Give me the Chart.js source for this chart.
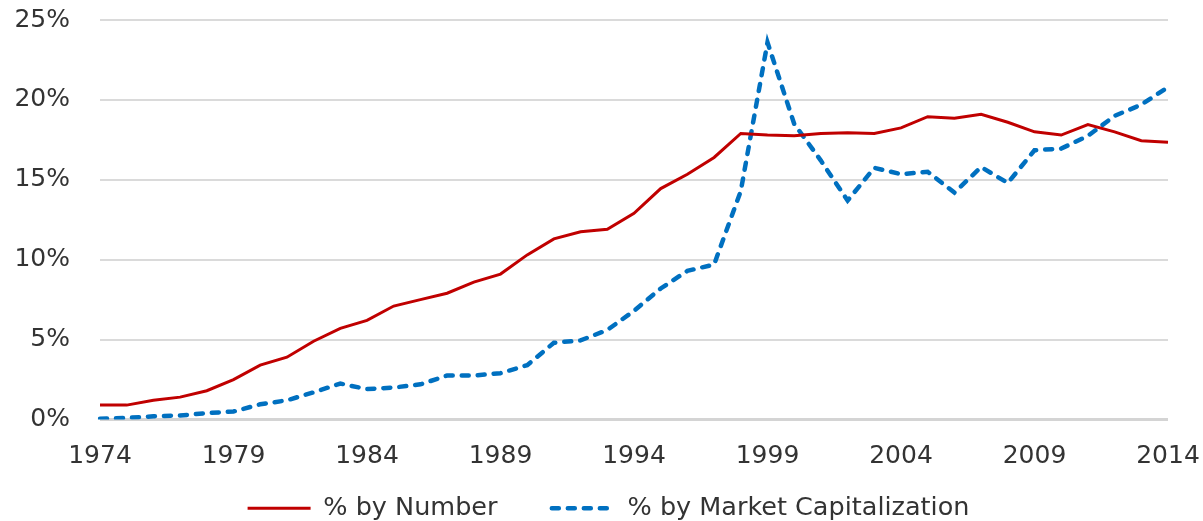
<!DOCTYPE html>
<html>
<head>
<meta charset="utf-8">
<title>% by Number vs % by Market Capitalization</title>
<script src="https://cdn.jsdelivr.net/npm/chart.js@4.4.1/dist/chart.umd.min.js"></script>
<style>
    html, body { margin: 0; padding: 0; background: #fff; }
    #wrap { width: 1203px; height: 521px; }
</style>
</head>
<body>
<div id="wrap"><canvas id="chart" width="1203" height="521"></canvas></div>
<script>
// Chart data (values in %)
const years = [
    '1974', '1975', '1976', '1977', '1978', '1979', '1980', '1981', '1982', '1983',
    '1984', '1985', '1986', '1987', '1988', '1989', '1990', '1991', '1992', '1993',
    '1994', '1995', '1996', '1997', '1998', '1999', '2000', '2001', '2002', '2003',
    '2004', '2005', '2006', '2007', '2008', '2009', '2010', '2011', '2012', '2013',
    '2014'
];
const byNumber = [
    0.9, 0.9, 1.2, 1.4, 1.8, 2.5, 3.4, 3.9, 4.9, 5.7,
    6.2, 7.1, 7.5, 7.9, 8.6, 9.1, 10.3, 11.3, 11.75, 11.9,
    12.9, 14.45, 15.35, 16.4, 17.9, 17.8, 17.75, 17.9, 17.95, 17.9,
    18.25, 18.95, 18.85, 19.1, 18.6, 18.0, 17.8, 18.45, 18.0, 17.45,
    17.35
];
const byMarketCap = [
    0.05, 0.1, 0.2, 0.25, 0.4, 0.5, 0.95, 1.2, 1.7, 2.25,
    1.9, 2.0, 2.2, 2.75, 2.75, 2.9, 3.4, 4.8, 4.95, 5.6,
    6.8, 8.2, 9.3, 9.7, 14.3, 23.6, 18.5, 16.2, 13.7, 15.75,
    15.35, 15.5, 14.2, 15.8, 14.8, 16.85, 16.95, 17.75, 19.0, 19.7,
    20.8
];
const yTicks = [0, 5, 10, 15, 20, 25];
const labelYears = ['1974', '1979', '1984', '1989', '1994', '1999', '2004', '2009', '2014'];

const FONT = "'DejaVu Sans', sans-serif";
const TEXT_COLOR = '#333333';

// legend samples: keep the dataset's dash / width / cap (point style would drop them)
function legendLabels(chart) {
    const items = Chart.defaults.plugins.legend.labels.generateLabels(chart);
    items.forEach((item, i) => {
        const ds = chart.data.datasets[item.datasetIndex];
        item.lineDash = ds.borderDash || [];
        item.lineWidth = ds.borderWidth;
        item.lineCap = ds.borderCapStyle || 'butt';
        item.strokeStyle = ds.borderColor;
        // a little extra room between the two entries
        if (i === 0) item.text += '\u00a0\u00a0\u00a0';
    });
    return items;
}

const ctx = document.getElementById('chart');

new Chart(ctx, {
    type: 'line',
    data: {
        labels: years,
        datasets: [
            {
                label: '% by Number',
                data: byNumber,
                borderColor: '#c00000',
                backgroundColor: '#c00000',
                borderWidth: 3,
                pointRadius: 0,
                tension: 0,
                fill: false
            },
            {
                label: '% by Market Capitalization',
                data: byMarketCap,
                borderColor: '#0070c0',
                backgroundColor: '#0070c0',
                borderWidth: 4.5,
                borderDash: [7, 9],
                borderCapStyle: 'round',
                pointRadius: 0,
                tension: 0,
                fill: false
            }
        ]
    },
    options: {
        responsive: false,
        animation: false,
        layout: {
            padding: { left: 14, right: 0, top: 20, bottom: -10 }
        },
        plugins: {
            legend: {
                display: true,
                position: 'bottom',
                labels: {
                    usePointStyle: true,
                    pointStyle: 'line',
                    pointStyleWidth: 63,
                    color: TEXT_COLOR,
                    padding: 30,
                    font: { family: FONT, size: 25.5 },
                    generateLabels: legendLabels
                }
            },
            tooltip: { enabled: false }
        },
        scales: {
            x: {
                grid: { display: false, drawTicks: false },
                border: { display: false },
                afterFit: axis => {
                    axis.height = 46;
                    axis.paddingLeft = 0;
                    axis.paddingRight = 35;
                },
                ticks: {
                    autoSkip: false,
                    maxRotation: 0,
                    padding: 22,
                    color: TEXT_COLOR,
                    font: { family: FONT, size: 25 },
                    callback: function (value) {
                        const lbl = this.getLabelForValue(value);
                        return labelYears.includes(lbl) ? lbl : null;
                    }
                }
            },
            y: {
                min: yTicks[0],
                max: yTicks[yTicks.length - 1],
                afterBuildTicks: axis => {
                    axis.ticks = yTicks.map(v => ({ value: v }));
                },
                afterFit: axis => {
                    axis.width = 86;
                    axis.paddingTop = 0;
                    axis.paddingBottom = 0;
                },
                grid: {
                    drawTicks: false,
                    color: c => c.tick && c.tick.value === 0 ? '#d4d4d4' : '#dadada',
                    lineWidth: c => c.tick && c.tick.value === 0 ? 3 : 2
                },
                border: { display: false },
                ticks: {
                    padding: 30,
                    color: TEXT_COLOR,
                    font: { family: FONT, size: 25 },
                    callback: value => value + '%'
                }
            }
        }
    }
});
</script>
</body>
</html>
